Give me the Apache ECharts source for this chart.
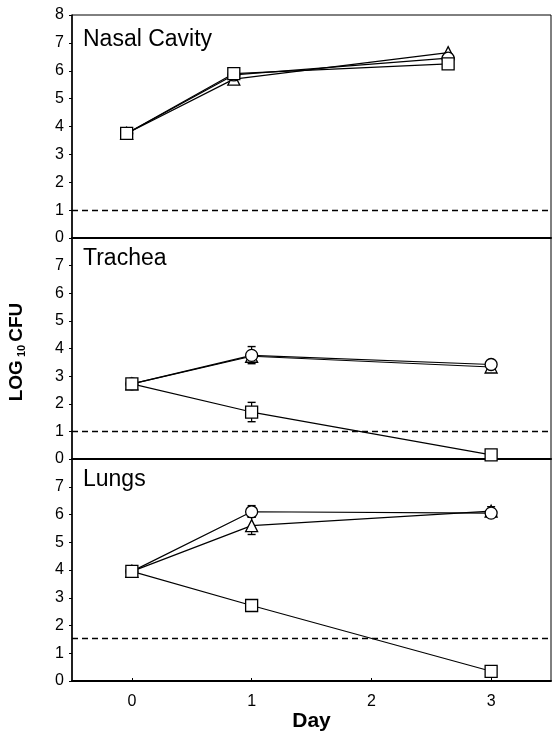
<!DOCTYPE html>
<html>
<head>
<meta charset="utf-8">
<script src="https://cdn.jsdelivr.net/npm/echarts@6/dist/echarts.min.js"></script>
<style>
html,body{margin:0;padding:0;background:#fff}
#main{width:553px;height:734px}
</style>
</head>
<body>
<div id="main"></div>
<script>
var days = [0, 1, 3];
var yTicks = [0, 1, 2, 3, 4, 5, 6, 7, 8];
var dayTicks = [0, 1, 2, 3];

// Nasal Cavity
var nasalSquare = [3.75, 5.9, 6.25];
var nasalCircle = [3.75, 5.85, 6.45];
var nasalTriangle = [3.75, 5.7, 6.65];
var nasalLimit = 1;

// Trachea
var tracheaSquare = [2.72, 1.7, 0.15];
var tracheaCircle = [2.72, 3.75, 3.42];
var tracheaTriangle = [2.72, 3.72, 3.33];
var tracheaLimit = 1;
var tracheaErr = [[1, 3.45, 4.07], [1, 1.35, 2.05]];

// Lungs
var lungsSquare = [3.95, 2.72, 0.35];
var lungsCircle = [3.95, 6.1, 6.05];
var lungsTriangle = [3.95, 5.6, 6.12];
var lungsLimit = 1.55;
var lungsErr = [[1, 5.9, 6.32], [1, 5.28, 5.9], [3, 6.0, 6.28]];

var font = 'Liberation Sans, Arial, sans-serif';

function pts(vals) {
    return days.map(function (d, i) { return [d, vals[i]]; });
}

function lineSeries(idx, vals, sym, limit) {
    var s = {
        type: 'line',
        xAxisIndex: idx,
        yAxisIndex: idx,
        data: pts(vals),
        symbol: sym,
        symbolSize: 12,
        showAllSymbol: true,
        lineStyle: {color: '#000', width: 1.2},
        itemStyle: {color: '#fff', borderColor: '#000', borderWidth: 1.3},
        z: 3,
        silent: true,
        animation: false
    };
    if (limit !== undefined) {
        s.markLine = {
            silent: true,
            symbol: 'none',
            label: {show: false},
            lineStyle: {color: '#000', type: [6, 4], width: 1.4},
            data: [{yAxis: limit}]
        };
    }
    return s;
}

function errSeries(idx, data) {
    return {
        type: 'custom',
        xAxisIndex: idx,
        yAxisIndex: idx,
        data: data,
        z: 2,
        silent: true,
        animation: false,
        renderItem: function (params, api) {
            var lo = api.coord([api.value(0), api.value(1)]);
            var hi = api.coord([api.value(0), api.value(2)]);
            var w = 4;
            return {
                type: 'group',
                children: [
                    {type: 'line', shape: {x1: lo[0], y1: lo[1], x2: hi[0], y2: hi[1]}, style: {stroke: '#000', lineWidth: 1.2}},
                    {type: 'line', shape: {x1: lo[0] - w, y1: lo[1], x2: lo[0] + w, y2: lo[1]}, style: {stroke: '#000', lineWidth: 1.4}},
                    {type: 'line', shape: {x1: hi[0] - w, y1: hi[1], x2: hi[0] + w, y2: hi[1]}, style: {stroke: '#000', lineWidth: 1.4}}
                ]
            };
        }
    };
}

var grids = [
    {left: 72, right: 2, top: 15, height: 223},
    {left: 72, right: 2, top: 238, height: 221},
    {left: 72, right: 2, top: 459, height: 222}
].map(function (g) {
    g.show = true;
    g.borderColor = '#000';
    g.borderWidth = 1;
    g.outerBoundsMode = 'none';
    g.containLabel = false;
    return g;
});

var xAxes = [0, 1, 2].map(function (i) {
    return {
        type: 'value',
        gridIndex: i,
        min: i === 0 ? -0.51 : -0.5,
        max: i === 0 ? 3.96 : 3.5,
        axisLine: {show: true, onZero: false, lineStyle: {color: '#000', width: 2}},
        axisTick: {show: i === 2, inside: true, length: 3, customValues: dayTicks, lineStyle: {color: '#000'}},
        axisLabel: {
            show: i === 2,
            customValues: dayTicks,
            color: '#000',
            fontFamily: font,
            fontSize: 16,
            margin: 13
        },
        splitLine: {show: false},
        name: i === 2 ? 'Day' : '',
        nameLocation: 'middle',
        nameGap: 29,
        nameTextStyle: {color: '#000', fontFamily: font, fontSize: 21, fontWeight: 'bold'}
    };
});

var yAxes = [0, 1, 2].map(function (i) {
    var labels = i === 0 ? yTicks : yTicks.slice(0, 8);
    return {
        type: 'value',
        gridIndex: i,
        min: 0,
        max: 8,
        interval: 1,
        axisLine: {show: true, onZero: false, lineStyle: {color: '#000', width: 1.5}},
        axisTick: {show: true, inside: false, length: 3, customValues: labels, lineStyle: {color: '#000'}},
        axisLabel: {customValues: labels, color: '#000', fontFamily: font, fontSize: 16, margin: 8},
        splitLine: {show: false}
    };
});

var series = [
    lineSeries(0, nasalTriangle, 'triangle', nasalLimit),
    lineSeries(0, nasalCircle, 'circle'),
    lineSeries(0, nasalSquare, 'rect'),
    errSeries(1, tracheaErr),
    lineSeries(1, tracheaTriangle, 'triangle', tracheaLimit),
    lineSeries(1, tracheaCircle, 'circle'),
    lineSeries(1, tracheaSquare, 'rect'),
    errSeries(2, lungsErr),
    lineSeries(2, lungsTriangle, 'triangle', lungsLimit),
    lineSeries(2, lungsCircle, 'circle'),
    lineSeries(2, lungsSquare, 'rect')
];

var titles = [['Nasal Cavity', 28], ['Trachea', 247], ['Lungs', 468]].map(function (t) {
    return {
        type: 'text',
        left: 83,
        top: t[1],
        style: {text: t[0], fill: '#000', font: '23px ' + font}
    };
});

titles.push({
    type: 'text',
    x: 17,
    y: 352,
    rotation: Math.PI / 2,
    style: {
        text: '{a|LOG}{b| 10 }{a|CFU}',
        align: 'center',
        verticalAlign: 'middle',
        fill: '#000',
        rich: {
            a: {fontSize: 19, fontWeight: 'bold', fontFamily: font, fill: '#000'},
            b: {fontSize: 11, fontWeight: 'bold', fontFamily: font, fill: '#000', verticalAlign: 'bottom', padding: [9, 0, 0, 0]}
        }
    }
});

var chart = echarts.init(document.getElementById('main'));
chart.setOption({
    animation: false,
    backgroundColor: '#fff',
    grid: grids,
    xAxis: xAxes,
    yAxis: yAxes,
    series: series,
    graphic: titles
});
</script>
</body>
</html>
